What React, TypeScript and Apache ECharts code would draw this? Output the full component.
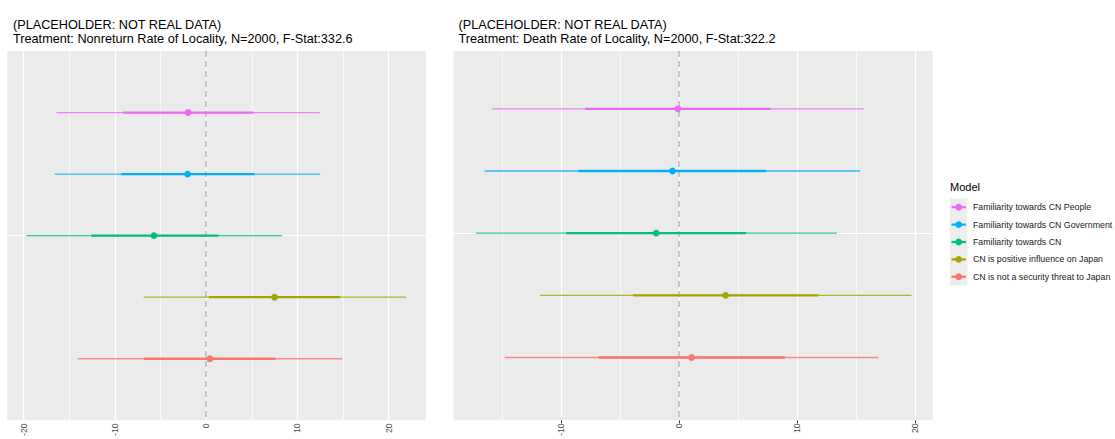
import React, { useEffect, useRef } from "react";
import * as echarts from "echarts";

const models = [
  "Familiarity towards CN People",
  "Familiarity towards CN Government",
  "Familiarity towards CN",
  "CN is positive influence on Japan",
  "CN is not a security threat to Japan",
];
const colors = ["#E76BF3", "#00B0F6", "#00BF7D", "#A3A500", "#F8766D"];
const positions = [1, 2, 3, 4, 5];

const leftTitle = ["(PLACEHOLDER: NOT REAL DATA)", "Treatment: Nonreturn Rate of Locality, N=2000, F-Stat:332.6"];
const rightTitle = ["(PLACEHOLDER: NOT REAL DATA)", "Treatment: Death Rate of Locality, N=2000, F-Stat:322.2"];

const leftEst = [-1.97, -2.04, -5.72, 7.5, 0.4];
const leftLo90 = [-9.1, -9.3, -12.6, 0.29, -6.8];
const leftHi90 = [5.2, 5.28, 1.34, 14.7, 7.6];
const leftLo95 = [-16.4, -16.6, -19.7, -6.85, -14.07];
const leftHi95 = [12.46, 12.5, 8.34, 21.9, 14.9];

const rightEst = [-0.11, -0.57, -1.95, 3.93, 1.05];
const rightLo90 = [-7.97, -8.54, -9.58, -3.9, -6.84];
const rightHi90 = [7.78, 7.35, 5.68, 11.8, 8.96];
const rightLo95 = [-15.86, -16.5, -17.25, -11.79, -14.8];
const rightHi95 = [15.66, 15.35, 13.37, 19.7, 16.9];

const leftMajor = [-20, -10, 0, 10, 20];
const leftMinor = [-15, -5, 5, 15];
const rightMajor = [-10, 0, 10, 20];
const rightMinor = [-15, -5, 5, 15];
const leftXRange = [-21.8, 24.1];
const rightXRange = [-19.14, 21.5];
const leftYRange = [0, 6];
const rightYRange = [0.07, 6.01];
const hBreaks = [3];

const FONT = "'Liberation Sans', Arial, Helvetica, sans-serif";

function buildData(lo95: number[], lo: number[], est: number[], hi: number[], hi95: number[]) {
  return positions.map((p, i) => [p, lo95[i], lo[i], est[i], hi[i], hi95[i], i]);
}

const renderItem = (params: any, api: any) => {
  const y = api.value(0);
  const idx = api.value(6);
  const color = colors[idx];
  const a = api.coord([api.value(1), y]);
  const b = api.coord([api.value(2), y]);
  const c = api.coord([api.value(3), y]);
  const d = api.coord([api.value(4), y]);
  const e = api.coord([api.value(5), y]);
  return {
    type: "group",
    children: [
      { type: "line", shape: { x1: a[0], y1: a[1], x2: e[0], y2: e[1] }, style: { stroke: color, lineWidth: 1.3, opacity: 0.8 } },
      { type: "line", shape: { x1: b[0], y1: b[1], x2: d[0], y2: d[1] }, style: { stroke: color, lineWidth: 2.3 } },
      { type: "circle", shape: { cx: c[0], cy: c[1], r: 3.4 }, style: { fill: color } },
    ],
  };
};

function gridSeries(axisIdx: number, major: number[], minor: number[]) {
  return {
    type: "line",
    xAxisIndex: axisIdx,
    yAxisIndex: axisIdx,
    data: [],
    symbol: "none",
    silent: true,
    z: 1,
    markLine: {
      silent: true,
      z: 1,
      symbol: ["none", "none"],
      label: { show: false },
      animation: false,
      data: [
        ...minor.map((v) => ({ xAxis: v, lineStyle: { color: "#FFFFFF", width: 0.6, type: "solid" } })),
        ...major.map((v) => ({ xAxis: v, lineStyle: { color: "#FFFFFF", width: 1.2, type: "solid" } })),
        ...hBreaks.map((v) => ({ yAxis: v, lineStyle: { color: "#FFFFFF", width: 1.2, type: "solid" } })),
        { xAxis: 0, lineStyle: { color: "#BEBEBE", width: 1.7, type: [6, 4] } },
      ],
    },
  };
}

function xAxisDef(gridIndex: number, range: number[], major: number[]) {
  return {
    type: "value",
    gridIndex,
    min: range[0],
    max: range[1],
    axisLine: { show: false },
    splitLine: { show: false },
    axisTick: { show: true, length: 3, lineStyle: { color: "#333333", width: 1 }, customValues: major },
    axisLabel: {
      show: true,
      customValues: major,
      rotate: 90,
      fontSize: 8.8,
      color: "#4D4D4D",
      fontFamily: FONT,
      margin: 3,
      showMinLabel: true,
      showMaxLabel: true,
    },
  };
}

function yAxisDef(gridIndex: number, range: number[]) {
  return {
    type: "value",
    gridIndex,
    min: range[0],
    max: range[1],
    inverse: true,
    axisLine: { show: false },
    axisTick: { show: false },
    axisLabel: { show: false },
    splitLine: { show: false },
  };
}

export default function App() {
  const ref = useRef<HTMLDivElement>(null);
  useEffect(() => {
    if (!ref.current) return;
    const chart = echarts.init(ref.current, null, { renderer: "svg" });
    const legendX = 950;
    const legendTop = 198.5;
    const keySize = 17.4;
    const legendGraphics: any[] = [
      {
        type: "text",
        left: legendX,
        top: 181,
        style: { text: "Model", fontSize: 11, fill: "#000000", fontFamily: FONT },
      },
    ];
    models.forEach((m, i) => {
      const yTop = legendTop + i * keySize;
      const cy = yTop + keySize / 2;
      legendGraphics.push(
        { type: "rect", shape: { x: legendX, y: yTop, width: keySize, height: keySize }, style: { fill: "#EDEDED" } },
        { type: "line", shape: { x1: legendX + 1.5, y1: cy, x2: legendX + keySize - 1.5, y2: cy }, style: { stroke: colors[i], lineWidth: 2.2 } },
        { type: "circle", shape: { cx: legendX + keySize / 2, cy, r: 3.4 }, style: { fill: colors[i] } },
        {
          type: "text",
          x: legendX + keySize + 5.5,
          y: cy,
          style: { text: m, fontSize: 8.8, fill: "#1A1A1A", fontFamily: FONT, verticalAlign: "middle", align: "left" },
        }
      );
    });

    const option: any = {
      animation: false,
      backgroundColor: "#FFFFFF",
      title: [
        {
          text: leftTitle.join("\n"),
          left: 8,
          top: 13,
          textStyle: { fontSize: 12.7, fontWeight: "normal", color: "#000000", fontFamily: FONT, lineHeight: 14 },
        },
        {
          text: rightTitle.join("\n"),
          left: 453.5,
          top: 13,
          textStyle: { fontSize: 12.7, fontWeight: "normal", color: "#000000", fontFamily: FONT, lineHeight: 14 },
        },
      ],
      grid: [
        { left: 7.3, top: 51, width: 418.7, height: 371, show: true, backgroundColor: "#EBEBEB", borderWidth: 0 },
        { left: 453.5, top: 51, width: 479.2, height: 371, show: true, backgroundColor: "#EBEBEB", borderWidth: 0 },
      ],
      xAxis: [xAxisDef(0, leftXRange, leftMajor), xAxisDef(1, rightXRange, rightMajor)],
      yAxis: [yAxisDef(0, leftYRange), yAxisDef(1, rightYRange)],
      series: [
        gridSeries(0, leftMajor, leftMinor),
        gridSeries(1, rightMajor, rightMinor),
        {
          type: "custom",
          name: "left",
          xAxisIndex: 0,
          yAxisIndex: 0,
          z: 10,
          renderItem,
          encode: { x: [1, 2, 3, 4, 5], y: 0 },
          data: buildData(leftLo95, leftLo90, leftEst, leftHi90, leftHi95),
        },
        {
          type: "custom",
          name: "right",
          xAxisIndex: 1,
          yAxisIndex: 1,
          z: 10,
          renderItem,
          encode: { x: [1, 2, 3, 4, 5], y: 0 },
          data: buildData(rightLo95, rightLo90, rightEst, rightHi90, rightHi95),
        },
      ],
      graphic: legendGraphics,
    };
    chart.setOption(option);
    return () => chart.dispose();
  }, []);
  return <div ref={ref} style={{ position: "fixed", left: 0, top: 0, width: 1115, height: 439 }} />;
}
